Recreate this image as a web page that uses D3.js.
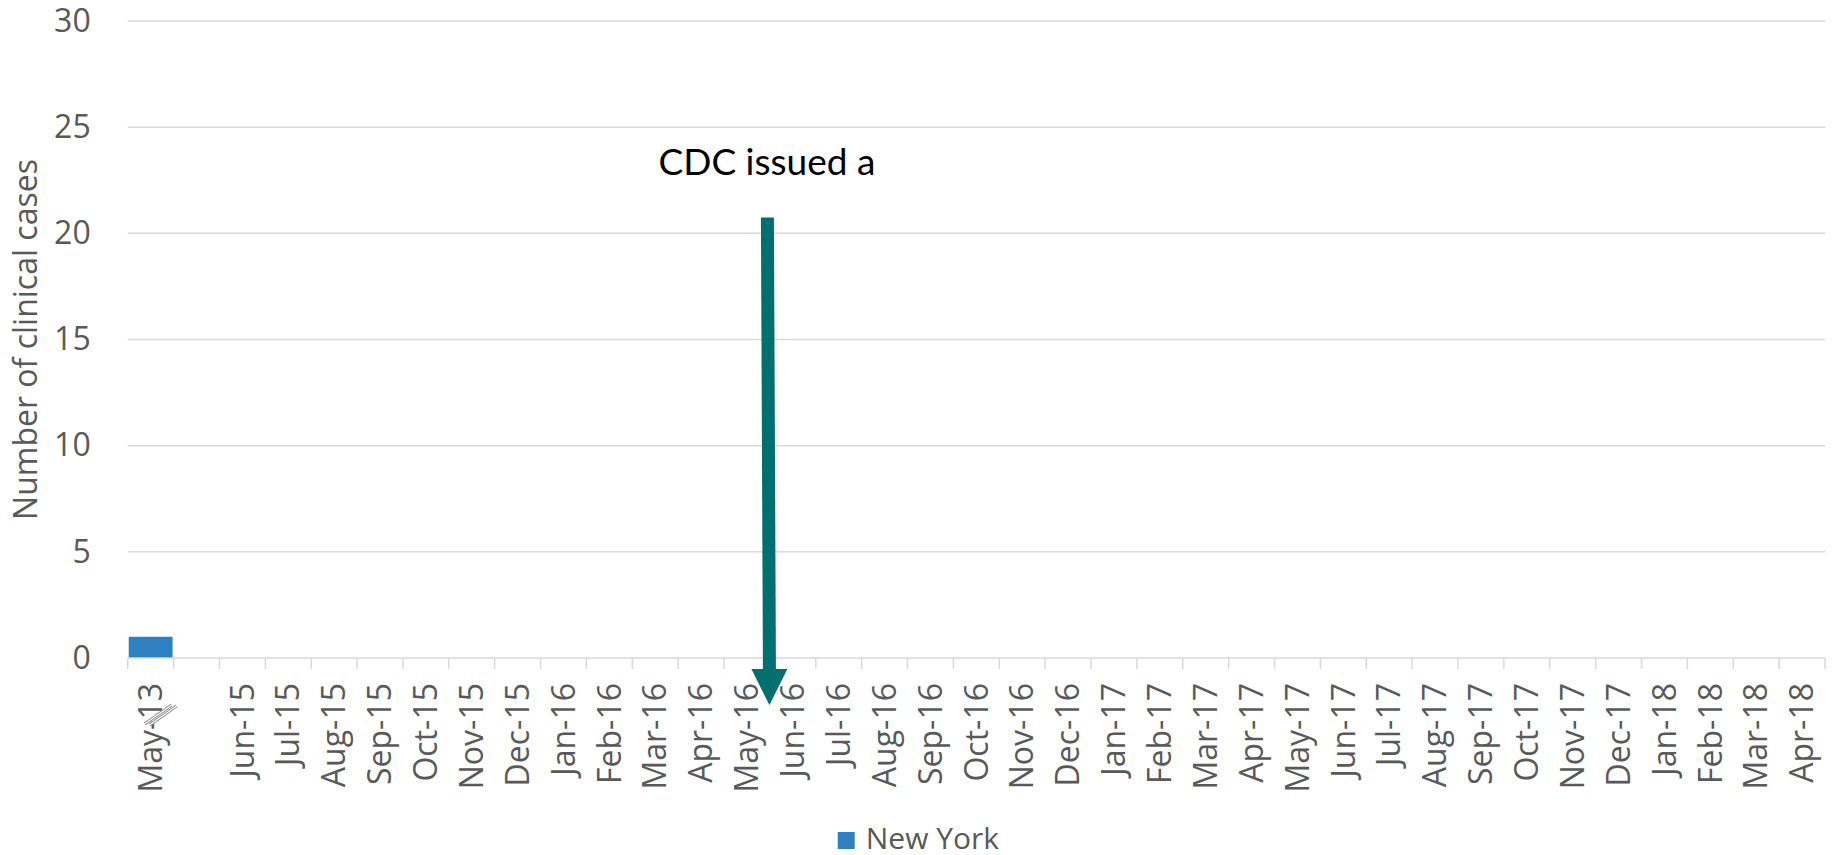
<!DOCTYPE html>
<html>
<head>
<meta charset="utf-8">
<script src="https://cdn.jsdelivr.net/npm/d3@7/dist/d3.min.js"></script>
<style>
  html, body { margin: 0; padding: 0; background: #ffffff; }
  svg { display: block; }
  text { font-family: "Open Sans", "DejaVu Sans", sans-serif; }
</style>
</head>
<body>
<svg id="chart" width="1833" height="855"></svg>
<script>
// Monthly clinical case counts; the second slot is the gap in the timeline (axis break)
const categories = [
  "May-13", "",
  "Jun-15", "Jul-15", "Aug-15", "Sep-15", "Oct-15", "Nov-15", "Dec-15",
  "Jan-16", "Feb-16", "Mar-16", "Apr-16", "May-16", "Jun-16", "Jul-16", "Aug-16",
  "Sep-16", "Oct-16", "Nov-16", "Dec-16",
  "Jan-17", "Feb-17", "Mar-17", "Apr-17", "May-17", "Jun-17", "Jul-17", "Aug-17",
  "Sep-17", "Oct-17", "Nov-17", "Dec-17",
  "Jan-18", "Feb-18", "Mar-18", "Apr-18"
];
const newYork = [
  1, 0,
  0, 0, 0, 0, 0, 0, 0,
  0, 0, 0, 0, 0, 0, 0, 0,
  0, 0, 0, 0,
  0, 0, 0, 0, 0, 0, 0, 0,
  0, 0, 0, 0,
  0, 0, 0, 0
];
const yTicks = [0, 5, 10, 15, 20, 25, 30];
const seriesName = "New York";
const yTitle = "Number of clinical cases";
const noteText = "CDC issued a";
const noteAt = "Jun-16";     // annotation arrow sits on the left edge of this month
const noteFrom = 20.75;      // arrow starts at this case count

const svg = d3.select("#chart");
const margin = { top: 21, right: 8, bottom: 197, left: 127.7 };
const W = 1833, H = 855;
const innerW = W - margin.left - margin.right;
const innerH = H - margin.top - margin.bottom;

const idx = d3.range(categories.length);
const x = d3.scaleBand().domain(idx).range([0, innerW]).paddingInner(0.045).paddingOuter(0.0225);
const xEdge = d3.scaleLinear().domain([0, categories.length]).range([0, innerW]);
const y = d3.scaleLinear().domain([0, 30]).range([innerH, 0]);

const g = svg.append("g").attr("transform", `translate(${margin.left},${margin.top})`);

// horizontal gridlines
g.append("g")
  .selectAll("line")
  .data(yTicks.filter(t => t > 0))
  .join("line")
  .attr("x1", 0).attr("x2", innerW)
  .attr("y1", d => y(d)).attr("y2", d => y(d))
  .attr("stroke", "#d9d9d9").attr("stroke-width", 1.5);

// y axis labels
const yAxis = d3.axisLeft(y).tickValues(yTicks).tickSize(0).tickPadding(37);
g.append("g").call(yAxis)
  .call(s => s.select(".domain").remove())
  .selectAll("text")
  .attr("fill", "#595959")
  .style("font-size", "32px")
  .style("font-family", "'Open Sans', sans-serif");

// bars
g.append("g")
  .selectAll("rect")
  .data(newYork)
  .join("rect")
  .attr("x", (d, i) => x(i))
  .attr("width", x.bandwidth())
  .attr("y", d => y(d))
  .attr("height", d => innerH - y(d))
  .attr("fill", "#2f80c0");

// category axis: baseline and boundary ticks
const ax = g.append("g").attr("transform", `translate(0,${innerH})`);
ax.append("line").attr("x1", 0).attr("x2", innerW).attr("y1", 0).attr("y2", 0)
  .attr("stroke", "#d9d9d9").attr("stroke-width", 1.5);
ax.selectAll("line.tick")
  .data(d3.range(categories.length + 1))
  .join("line")
  .attr("class", "tick")
  .attr("x1", d => xEdge(d)).attr("x2", d => xEdge(d))
  .attr("y1", 0).attr("y2", 11)
  .attr("stroke", "#d9d9d9").attr("stroke-width", 1.5);

ax.selectAll("text")
  .data(idx.filter(i => categories[i] !== ""))
  .join("text")
  .attr("transform", i => `translate(${x(i) + x.bandwidth() / 2},25) rotate(-90)`)
  .attr("text-anchor", "end")
  .attr("dy", "0.35em")
  .attr("fill", "#595959")
  .style("font-size", "32px")
  .text(i => categories[i]);

// axis break marks across the first label
const bx = x(0) + x.bandwidth() / 2;
const brk = ax.append("g");
[[0, 0], [5, 1]].forEach(([o, k]) => {
  brk.append("line")
    .attr("x1", bx - 6 + o).attr("y1", 66 + k)
    .attr("x2", bx + 21 + o).attr("y2", 47 + k)
    .attr("stroke", "#8a8a8a").attr("stroke-width", 3);
  brk.append("line")
    .attr("x1", bx - 6 + o).attr("y1", 66 + k)
    .attr("x2", bx + 21 + o).attr("y2", 47 + k)
    .attr("stroke", "#ffffff").attr("stroke-width", 1.2);
});

// y axis title
svg.append("text")
  .attr("transform", `translate(37,${margin.top + innerH / 2}) rotate(-90)`)
  .attr("text-anchor", "middle")
  .attr("fill", "#595959")
  .style("font-size", "32px")
  .text(yTitle);

// annotation arrow
const ai = categories.indexOf(noteAt);
const arrowX = xEdge(ai);
const arrowTop = y(noteFrom);
const tipY = innerH + 47;
const headH = 36, headW = 36;
const note = g.append("g");
note.append("line")
  .attr("x1", arrowX - 2.5).attr("y1", arrowTop)
  .attr("x2", arrowX - 0.5).attr("y2", tipY - headH + 2)
  .attr("stroke", "#006f6f").attr("stroke-width", 13);
note.append("path")
  .attr("d", `M${arrowX - headW / 2 - 0.5},${tipY - headH} L${arrowX + headW / 2 - 0.5},${tipY - headH} L${arrowX - 0.5},${tipY} Z`)
  .attr("fill", "#006f6f");
note.append("text")
  .attr("x", arrowX - 3)
  .attr("y", arrowTop - 42)
  .attr("text-anchor", "middle")
  .attr("fill", "#000000")
  .style("font-family", "Lato, 'Open Sans', sans-serif")
  .style("font-size", "37px")
  .text(noteText);

// legend
const lg = svg.append("g").attr("transform", "translate(837.7,832)");
lg.append("rect").attr("width", 17).attr("height", 17).attr("fill", "#2f80c0");
lg.append("text")
  .attr("x", 28).attr("y", 17)
  .attr("fill", "#595959")
  .style("font-size", "30px")
  .text(seriesName);
</script>
</body>
</html>
